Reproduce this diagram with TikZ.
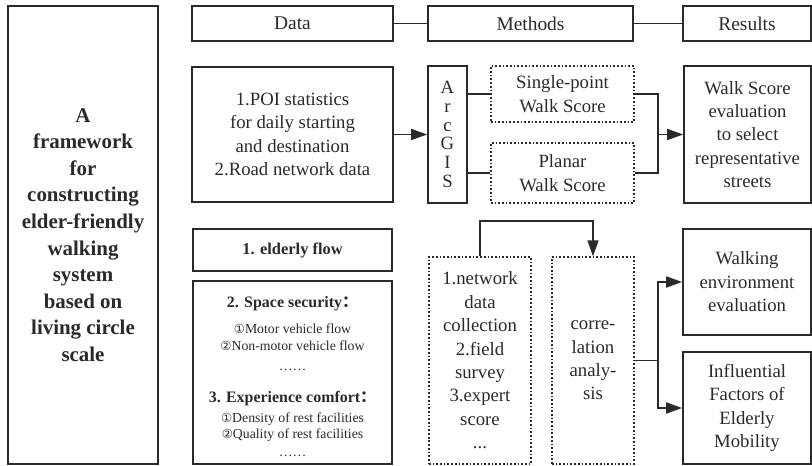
\documentclass[tikz,border=0pt]{standalone}
\usepackage{fontspec}
\setmainfont{Liberation Serif}
\newfontfamily\tnr{Liberation Serif}
\newfontfamily\symf{DejaVu Sans}
\newfontfamily\cjk{Noto Sans CJK SC}
\usetikzlibrary{arrows.meta}
\definecolor{ink}{HTML}{2A2A2A}
\begin{document}
\begin{tikzpicture}[x=1bp,y=-1bp,
  box/.style={draw=ink,line width=1.7bp,rectangle,inner sep=0pt,align=center,text=ink,font=\tnr\fontsize{18.8}{23.5}\selectfont},
  dbox/.style={box,dotted,line width=1.4bp},
  ln/.style={draw=ink,line width=1.7bp},
  arr/.style={ln,-{Triangle[length=16bp,width=11bp]}},
  sm/.style={text=ink,inner sep=0pt,anchor=base,font=\tnr\fontsize{13.8}{15}\selectfont},
  smb/.style={text=ink,inner sep=0pt,anchor=base,font=\tnr\bfseries\fontsize{16}{18}\selectfont},
]
\useasboundingbox (0,0) rectangle (812,466);
% left title
\node[box,minimum width=150bp,minimum height=458bp,font=\tnr\bfseries\fontsize{21}{26.7}\selectfont] (title) at (83,235)
  {A\\framework\\for\\constructing\\elder-friendly\\walking\\system\\based on\\living circle\\scale};
% headers
\node[box,minimum width=201bp,minimum height=35bp,font=\tnr\fontsize{19.5}{23.5}\selectfont] (data) at (292.5,23.5) {Data};
\node[box,minimum width=205bp,minimum height=35bp,font=\tnr\fontsize{19.5}{23.5}\selectfont] (methods) at (530.5,23.5) {Methods};
\node[box,minimum width=128bp,minimum height=35bp,font=\tnr\fontsize{19.5}{23.5}\selectfont] (results) at (747,23.5) {Results};
\draw[ln] (data.east) -- (methods.west);
\draw[ln] (methods.east) -- (results.west);
% upper row
\node[box,minimum width=201bp,minimum height=135bp] (poi) at (292.5,134.5)
  {1.POI statistics\\for daily starting\\and destination\\2.Road network data};
\node[box,minimum width=39bp,minimum height=137bp,font=\tnr\fontsize{18.8}{18.8}\selectfont] (arcgis) at (447.5,134.5)
  {A\\r\\c\\G\\I\\S};
\node[dbox,minimum width=143bp,minimum height=56bp] (single) at (562.5,94) {Single-point\\Walk Score};
\node[dbox,minimum width=143bp,minimum height=60bp] (planar) at (562.5,173) {Planar\\Walk Score};
\node[box,minimum width=127bp,minimum height=137bp] (wse) at (747.5,134.5)
  {Walk Score\\evaluation\\to select\\representative\\streets};
\coordinate (m1) at (658,134.5);
\draw[arr] (poi.east) -- (arcgis.west);
\draw[ln] (arcgis.east |- single.west) -- (single.west);
\draw[ln] (arcgis.east |- planar.west) -- (planar.west);
\draw[ln] (single.east) -| (m1) |- (planar.east);
\draw[arr] (m1) -- (wse.west);
% lower row
\node[box,minimum width=199bp,minimum height=42bp,font=\tnr\bfseries\fontsize{16.5}{20}\selectfont] (elderly) at (292.5,250) {1. elderly flow};
\node[box,minimum width=199bp,minimum height=183bp] (space) at (292.5,372.5) {};
\node[smb] (s1) at (292.5,308) {2. Space security\cjk{：}};
\node[sm] (s2) at (292.5,334) {{\symf\fontsize{12.5}{15}\selectfont ①}Motor vehicle flow};
\node[sm] (s3) at (292.5,351) {{\symf\fontsize{12.5}{15}\selectfont ②}Non-motor vehicle flow};
\node[sm] (s4) at (292.5,371) {……};
\node[smb] (s5) at (292.5,402) {3. Experience comfort\cjk{：}};
\node[sm] (s6) at (292.5,422) {{\symf\fontsize{12.5}{15}\selectfont ①}Density of rest facilities};
\node[sm] (s7) at (292.5,438) {{\symf\fontsize{12.5}{15}\selectfont ②}Quality of rest facilities};
\node[sm] (s8) at (292.5,456) {……};
\node[dbox,minimum width=102bp,minimum height=207bp] (network) at (480,360.5)
  {1.network\\data\\collection\\2.field\\survey\\3.expert\\score\\...};
\node[dbox,minimum width=82bp,minimum height=207bp] (corr) at (593,360.5)
  {corre-\\lation\\analy-\\sis};
\node[box,minimum width=128bp,minimum height=106bp] (walkenv) at (747,282)
  {Walking\\environment\\evaluation};
\node[box,minimum width=128bp,minimum height=112bp] (infl) at (747,408)
  {Influential\\Factors of\\Elderly\\Mobility};
\draw[arr] (network.north) -- ++(0,-35) -| (corr.north);
\coordinate (m2) at (658,360.5);
\draw[ln] (corr.east) -- (m2);
\draw[arr] (m2) |- (walkenv.west);
\draw[arr] (m2) |- (infl.west);
\end{tikzpicture}
\end{document}
